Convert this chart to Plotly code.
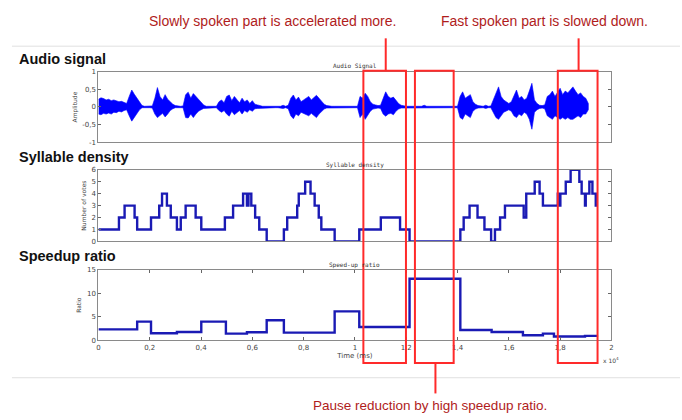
import plotly.graph_objects as go

# ---------------- data ----------------
# audio envelope, one value every 0.01 (x 10^4 ms)
audio_step = 0.01
audio_top = [0.22,0.26,0.24,0.2,0.22,0.18,0.2,0.17,0.15,0.16,0.12,0.1,
             0.3,0.48,0.36,0.25,0.12,0.04,0.02,0.02,0.02,0.03,
             0.25,0.55,0.3,0.2,0.35,0.22,0.15,0.08,0.04,0.02,0.02,0.03,
             0.35,0.42,0.25,0.38,0.3,0.2,0.12,0.06,0.02,0.02,0.02,0.02,0.02,
             0.15,0.2,0.12,0.3,0.34,0.18,0.3,0.2,0.12,0.25,0.15,0.2,0.1,0.18,0.08,0.06,0.03,
             0.02,0.02,0.02,0.02,0.02,0.02,0.02,0.02,0.05,0.02,
             0.05,0.25,0.34,0.2,0.28,0.15,0.2,0.25,0.3,0.2,0.28,0.33,0.25,0.15,0.08,0.04,
             0.02,0.02,0.02,0.02,0.02,0.02,0.02,0.02,0.02,0.02,0.02,0.02,
             0.3,0.25,0.39,0.3,0.15,0.08,0.06,0.04,0.05,
             0.25,0.43,0.3,0.25,0.28,0.18,0.1,0.05,0.03,
             0.02,0.02,0.02,0.02,0.02,0.02,0.02,0.05,0.02,0.02,0.02,0.02,0.02,0.02,0.02,0.02,0.02,0.02,0.02,0.02,0.02,
             0.3,0.43,0.25,0.3,0.35,0.15,0.08,0.04,0.03,0.02,0.05,0.02,0.03,
             0.2,0.35,0.57,0.3,0.2,0.15,0.1,0.15,
             0.3,0.48,0.25,0.3,0.2,0.25,0.45,0.67,0.2,0.1,0.05,0.04,0.06,
             0.3,0.35,0.45,0.3,0.4,0.53,0.35,0.45,0.4,0.5,0.57,0.45,0.35,0.4,0.3,0.25,0.1]
audio_bottom = [0.2,0.22,0.18,0.2,0.17,0.2,0.15,0.16,0.12,0.14,0.1,0.08,
                0.25,0.4,0.3,0.2,0.08,0.02,0.02,0.02,0.02,0.03,
                0.2,0.3,0.25,0.18,0.28,0.2,0.1,0.05,0.02,0.02,0.02,0.02,
                0.3,0.31,0.2,0.3,0.2,0.12,0.08,0.04,0.02,0.02,0.02,0.02,0.02,
                0.1,0.15,0.1,0.2,0.26,0.12,0.22,0.15,0.1,0.2,0.1,0.15,0.08,0.12,0.05,0.04,0.02,
                0.02,0.02,0.02,0.02,0.02,0.02,0.02,0.02,0.04,0.02,
                0.05,0.25,0.33,0.2,0.25,0.15,0.18,0.22,0.25,0.18,0.25,0.3,0.2,0.12,0.06,0.03,
                0.02,0.02,0.02,0.02,0.02,0.02,0.02,0.02,0.02,0.02,0.02,0.02,
                0.3,0.2,0.35,0.25,0.12,0.06,0.05,0.03,0.04,
                0.2,0.26,0.2,0.18,0.22,0.12,0.06,0.03,0.02,
                0.02,0.02,0.02,0.02,0.02,0.02,0.02,0.03,0.02,0.02,0.02,0.02,0.02,0.02,0.02,0.02,0.02,0.02,0.02,0.02,0.02,
                0.3,0.35,0.2,0.25,0.3,0.12,0.06,0.03,0.02,0.02,0.04,0.02,0.02,
                0.15,0.3,0.35,0.25,0.15,0.12,0.08,0.12,
                0.25,0.3,0.2,0.25,0.15,0.2,0.35,0.63,0.15,0.08,0.04,0.03,0.05,
                0.25,0.3,0.35,0.25,0.3,0.35,0.3,0.35,0.3,0.35,0.35,0.3,0.25,0.3,0.2,0.2,0.08]

# syllable density (step changes)
syl_time = [0, 0.080, 0.102, 0.141, 0.151, 0.205, 0.237, 0.248, 0.267, 0.282, 0.306,
            0.321, 0.340, 0.379, 0.401, 0.493, 0.525, 0.564, 0.579, 0.585, 0.596, 0.611,
            0.627, 0.656, 0.723, 0.736, 0.775, 0.781, 0.806, 0.827, 0.843, 0.859, 0.869,
            0.921, 1.017, 1.101, 1.176, 1.213, 1.411, 1.424, 1.447, 1.478, 1.505, 1.531,
            1.546, 1.566, 1.585, 1.658, 1.668, 1.701, 1.720, 1.733, 1.791, 1.797, 1.801,
            1.822, 1.841, 1.875, 1.884, 1.897, 1.900, 1.914, 1.926, 1.939, 1.946]
syl_votes = [1, 2, 3, 2, 1, 2, 3, 4, 3, 2, 1,
             2, 3, 2, 1, 2, 3, 4, 3, 4, 3, 2,
             1, 0, 1, 2, 3, 4, 5, 4, 3, 2, 1,
             0, 1, 2, 1, 0, 1, 2, 3, 2, 1, 0,
             1, 2, 3, 2, 4, 5, 4, 3, 4, 3, 4,
             5, 6, 5, 4, 3, 4, 5, 4, 3, 3]

# speed-up ratio (step changes)
speed_time = [0, 0.151, 0.205, 0.306, 0.401, 0.497, 0.579, 0.656, 0.723, 0.921,
              1.017, 1.213, 1.411, 1.533, 1.655, 1.733, 1.776, 1.897, 1.948]
speed_ratio = [2.36, 4.0, 1.53, 1.8, 4.0, 1.46, 1.74, 4.3, 1.67, 6.18,
               2.85, 13.1, 2.22, 1.81, 1.11, 1.46, 0.83, 0.97, 0.97]

x_ticks = [0, 0.2, 0.4, 0.6, 0.8, 1, 1.2, 1.4, 1.6, 1.8, 2]
x_tick_labels = ["0", "0,2", "0,4", "0,6", "0,8", "1", "1,2", "1,4", "1,6", "1,8", "2"]
amp_ticks = [-1, -0.5, 0, 0.5, 1]
amp_tick_labels = ["-1", "-0,5", "0", "0,5", "1"]
vote_ticks = [0, 1, 2, 3, 4, 5, 6]
ratio_ticks = [0, 5, 10, 15]

# highlighted regions (x 10^4 ms)
regions = [(1.033, 1.199), (1.234, 1.385), (1.791, 1.946)]

# ---------------- figure ----------------
audio_t = [i * audio_step for i in range(len(audio_top))]
poly_x = audio_t + audio_t[::-1]
poly_y = audio_top + [-v for v in audio_bottom[::-1]]

fig = go.Figure()
fig.add_trace(go.Scatter(x=poly_x, y=poly_y, xaxis="x", yaxis="y", mode="lines",
                         fill="toself", fillcolor="#0000ff",
                         line=dict(color="#0000ff", width=0.6), hoverinfo="skip"))
fig.add_trace(go.Scatter(x=syl_time, y=syl_votes, xaxis="x2", yaxis="y2", mode="lines",
                         line=dict(color="#1a1ab4", width=2.4, shape="hv")))
fig.add_trace(go.Scatter(x=speed_time, y=speed_ratio, xaxis="x3", yaxis="y3", mode="lines",
                         line=dict(color="#1a1ab4", width=2.4, shape="hv")))

W, H = 682, 420
def px(v): return v / W
def py(v): return 1 - v / H

xdom = [px(97), px(613)]
tickfont = dict(family="DejaVu Sans", size=7, color="#444")
common_x = dict(range=[0, 2], domain=xdom, showgrid=False, zeroline=False,
                showline=True, linecolor="#8a8a8a", linewidth=1, mirror=True,
                tickvals=x_ticks, ticktext=x_tick_labels, tickfont=tickfont)
common_y = dict(showgrid=False, zeroline=False, showline=True, linecolor="#8a8a8a",
                linewidth=1, mirror="ticks", ticks="inside", ticklen=3,
                tickcolor="#666", tickfont=tickfont)

fig.update_layout(
    width=W, height=H, margin=dict(l=0, r=0, t=0, b=0),
    paper_bgcolor="white", plot_bgcolor="white", showlegend=False,
    xaxis=dict(common_x, anchor="y", showticklabels=False, ticks=""),
    yaxis=dict(common_y, domain=[py(141), py(69)], range=[-1, 1],
               tickvals=amp_ticks, ticktext=amp_tick_labels,
               title=dict(text="Amplitude", font=dict(family="DejaVu Sans", size=6, color="#444"), standoff=4)),
    xaxis2=dict(common_x, anchor="y2", showticklabels=False, ticks=""),
    yaxis2=dict(common_y, domain=[py(242), py(169)], range=[0, 6], anchor="x2",
                tickvals=vote_ticks,
                title=dict(text="Number of votes", font=dict(family="DejaVu Sans", size=6, color="#444"), standoff=4)),
    xaxis3=dict(common_x, anchor="y3", ticks="inside", ticklen=3, tickcolor="#666",
                mirror="ticks",
                title=dict(text="Time (ms)", font=dict(family="DejaVu Sans", size=7, color="#444"), standoff=2)),
    yaxis3=dict(common_y, domain=[py(343), py(271)], range=[0, 15], anchor="x3",
                tickvals=ratio_ticks,
                title=dict(text="Ratio", font=dict(family="DejaVu Sans", size=6, color="#444"), standoff=4)),
)

shapes = []
# light separators
shapes.append(dict(type="line", xref="paper", yref="paper", x0=px(10), x1=1, y0=py(43), y1=py(43),
                   line=dict(color="#e0e0e0", width=1)))
shapes.append(dict(type="line", xref="paper", yref="paper", x0=px(10), x1=1, y0=py(381), y1=py(381),
                   line=dict(color="#e0e0e0", width=1)))
red = "#ff2a2a"
for (a, b) in regions:
    shapes.append(dict(type="rect", xref="x3", yref="paper", x0=a, x1=b, y0=py(366), y1=py(68),
                       line=dict(color=red, width=2)))
shapes.append(dict(type="line", xref="paper", yref="paper", x0=px(386), x1=px(386), y0=py(35), y1=py(68),
                   line=dict(color=red, width=2)))
shapes.append(dict(type="line", xref="paper", yref="paper", x0=px(580), x1=px(580), y0=py(35), y1=py(68),
                   line=dict(color=red, width=2)))
shapes.append(dict(type="line", xref="paper", yref="paper", x0=px(436), x1=px(436), y0=py(366), y1=py(397),
                   line=dict(color=red, width=2)))
fig.update_layout(shapes=shapes)

ann = []
def note(text, x, y, size, color, family, xanchor="center", bold=False):
    ann.append(dict(text=("<b>%s</b>" % text) if bold else text, x=px(x), y=py(y),
                    xref="paper", yref="paper", showarrow=False, xanchor=xanchor, yanchor="middle",
                    font=dict(size=size, color=color, family=family)))

dark_red = "#b01c1c"
narrow = "Liberation Sans Narrow, Arial Narrow, Liberation Sans"
note("Slowly spoken part is accelerated more.", 272, 17, 14, dark_red, narrow)
note("Fast spoken part is slowed down.", 546, 17, 14, dark_red, narrow)
note("Pause reduction by high speedup ratio.", 431, 409, 13.5, dark_red, narrow)
note("Audio signal", 15, 56, 14.5, "#111", "Liberation Sans", "left", True)
note("Syllable density", 15, 156, 14.5, "#111", "Liberation Sans", "left", True)
note("Speedup ratio", 15, 257, 14.5, "#111", "Liberation Sans", "left", True)
note("Audio Signal", 355, 63, 6, "#333", "DejaVu Sans Mono")
note("Syllable density", 355, 164, 6, "#333", "DejaVu Sans Mono")
note("Speed-up ratio", 355, 266, 6, "#333", "DejaVu Sans Mono")
note("x 10<sup>4</sup>", 603, 363, 6, "#444", "DejaVu Sans", "left")
fig.update_layout(annotations=ann)

fig.write_html("out.html", config={"displayModeBar": False},
               post_script="document.body.style.margin='0';")
